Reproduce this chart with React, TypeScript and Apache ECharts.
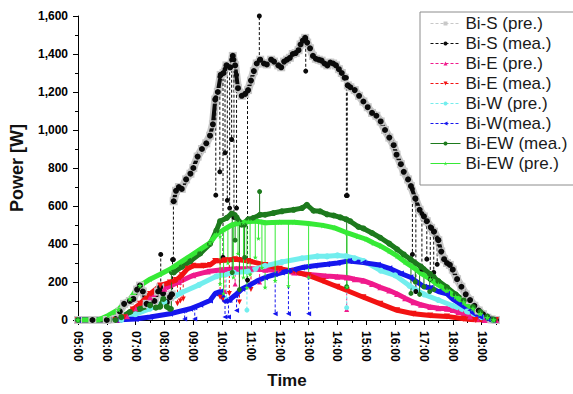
import React, { useEffect, useRef } from 'react';
import * as echarts from 'echarts';

type P = [number, number | null];
type D = [number, number, number];

// ---- Bi-S (measured): [hour, W]; null = break in the marker band
const biSMea: P[] = [
  [5.0, 0], [5.5, 0], [6.0, 0], [6.3, 5], [6.45, 45], [6.6, 85], [6.8, 100], [6.92, 111], [7.05, 160], [7.15, 181],
  [7.25, 150], [7.38, 85], [7.5, 80], [7.65, 100], [7.78, 150], [7.85, 172], [7.95, 140], [8.08, 94], [8.19, 120], [8.25, 135],
  [8.3, null], [8.32, 625], [8.4, 680], [8.5, 700], [8.6, 690], [8.75, 740], [8.9, 770], [9.0, 800], [9.15, 860], [9.3, 900],
  [9.45, 930], [9.58, 970], [9.68, 1030], [9.76, 1160], [9.85, 1200], [9.95, 1290], [10.05, 1300], [10.15, 1340], [10.28, 1330],
  [10.37, 1390], [10.45, 1340], [10.55, 1220], [10.68, 1180], [10.8, 1190], [10.9, 1210], [11.0, 1260], [11.1, 1310], [11.2, 1350],
  [11.32, 1370], [11.45, 1350], [11.55, 1345], [11.7, 1370], [11.8, 1360], [11.95, 1340], [12.05, 1330], [12.15, 1360], [12.25, 1370],
  [12.35, 1380], [12.45, 1400], [12.55, 1405], [12.65, 1420], [12.72, 1450], [12.8, 1470], [12.88, 1485], [12.95, 1460], [13.05, 1430],
  [13.15, 1390], [13.25, 1375], [13.35, 1370], [13.45, 1365], [13.55, 1350], [13.65, 1340], [13.75, 1355], [13.85, 1350], [13.95, 1340],
  [14.05, 1320], [14.15, 1300], [14.25, 1275], [14.3, null], [14.36, 1235], [14.45, 1225], [14.6, 1210], [14.75, 1180], [14.9, 1150],
  [15.05, 1120], [15.2, 1090], [15.35, 1075], [15.5, 1045], [15.65, 1000], [15.8, 960], [15.95, 920], [16.05, 870], [16.2, 820],
  [16.3, 780], [16.45, 740], [16.55, 705], [16.7, 640], [16.85, 580], [17.0, 545], [17.1, 520], [17.25, 485], [17.35, 465],
  [17.5, 420], [17.6, 360], [17.7, 320], [17.8, 300], [17.9, 290], [18.0, 265], [18.15, 215], [18.3, 175], [18.45, 135],
  [18.6, 105], [18.75, 75], [18.9, 50], [19.05, 30], [19.2, 12], [19.35, 3], [19.5, 0],
];
// Bi-S (predicted) sits under the measured band as its grey halo
const biSPre: P[] = biSMea;
// sudden jumps / drop-outs: [hour, from W, to W]
const biSMeaDrops: D[] = [
  [7.87, 150, 345], [8.28, 135, 318], [8.31, 318, 625], [9.78, 1170, 657], [9.92, 1280, 780], [10.03, 1300, 330],
  [10.1, 1320, 880], [10.18, 1340, 630], [10.26, 1330, 589], [10.33, 1370, 950], [10.41, 1370, 540], [10.5, 1290, 589],
  [10.88, 1205, 210], [11.29, 1368, 1600], [12.9, 1480, 1310], [14.31, 1275, 655], [14.34, 655, 1235],
  [16.6, 690, 345], [16.72, 635, 150], [16.93, 560, 267], [17.1, 520, 320], [17.22, 490, 215], [17.34, 465, 250], [17.46, 430, 293],
];

const biEPre: P[] = [
  [5.0, 0], [6.4, 0], [6.7, 20], [7.0, 60], [7.5, 120], [8.0, 165], [8.5, 200], [9.0, 235], [9.5, 255], [10.0, 265],
  [10.5, 270], [11.0, 270], [11.5, 265], [12.0, 262], [12.5, 250], [13.0, 240], [13.6, 232], [14.0, 228], [14.33, 224],
  [14.6, 215], [14.9, 207], [15.2, 190], [15.49, 172], [15.8, 155], [16.07, 137], [16.35, 115], [16.64, 94], [16.9, 80],
  [17.22, 68], [17.5, 62], [17.8, 59], [18.0, 52], [18.2, 42], [18.38, 33], [18.6, 18], [18.84, 7], [19.1, 0], [19.5, 0],
];
const biEPreDrops: D[] = [[10.1, 265, 150], [10.45, 270, 190], [11.3, 268, 200], [14.32, 224, 55]];

const biEMea: P[] = [
  [5.0, 0], [6.3, 0], [6.6, 15], [6.9, 55], [7.15, 85], [7.5, 137], [7.85, 181], [8.19, 198], [8.4, 210], [8.6, 235],
  [8.8, 270], [9.0, 285], [9.35, 285], [9.58, 290], [9.76, 311], [10.1, 315], [10.45, 320], [10.91, 311], [11.5, 290],
  [12.0, 270], [12.5, 255], [13.0, 235], [13.5, 205], [14.0, 175], [14.33, 155], [14.9, 120], [15.49, 85], [16.07, 51],
  [16.64, 33], [17.22, 24], [17.8, 19], [18.38, 7], [18.8, 0], [19.5, 0],
];
const biEMeaDrops: D[] = [
  [8.45, 212, 85], [8.55, 225, 100], [8.65, 240, 110], [9.93, 305, 120], [10.05, 313, 105], [10.25, 316, 140],
  [10.6, 318, 95], [11.0, 308, 160],
];

const biWPre: P[] = [
  [5.0, 0], [6.5, 0], [7.0, 30], [7.5, 60], [8.0, 95], [8.6, 145], [9.2, 185], [9.8, 230], [10.4, 250], [10.9, 255],
  [11.49, 285], [12.07, 305], [12.77, 325], [13.3, 335], [13.64, 335], [14.0, 340], [14.3, 336], [14.6, 325], [14.9, 311],
  [15.5, 260], [16.0, 235], [16.5, 180], [17.0, 135], [17.5, 105], [18.0, 75], [18.5, 45], [19.0, 15], [19.4, 0],
];
const biWPreDrops: D[] = [[10.15, 240, 110], [10.86, 255, 52], [14.32, 336, 65]];

const biWMea: P[] = [
  [5.0, 0], [6.3, 0], [7.0, 5], [7.5, 16], [8.19, 33], [8.89, 59], [9.24, 80], [9.58, 103], [9.76, 140], [9.93, 150],
  [10.1, 100], [10.25, 105], [10.45, 130], [10.7, 165], [10.91, 180], [11.2, 205], [11.49, 224], [12.07, 250], [12.5, 265],
  [12.77, 276], [13.2, 285], [13.64, 293], [14.0, 300], [14.4, 311], [14.9, 302], [15.4, 291], [15.8, 272], [16.2, 245],
  [16.53, 225], [17.0, 175], [17.22, 170], [17.5, 150], [17.8, 137], [18.0, 110], [18.26, 85], [18.61, 51], [18.96, 16],
  [19.2, 5], [19.4, 0],
];
const biWMeaDrops: D[] = [
  [8.7, 50, 5], [9.05, 65, 5], [10.1, 100, 16], [10.22, 103, 16], [10.5, 135, 50], [11.84, 240, 33], [12.3, 257, 33], [13.0, 280, 33],
];

const biEWMea: P[] = [
  [5.0, 0], [6.3, 0], [6.5, 15], [6.8, 42], [7.15, 59], [7.5, 77], [7.7, 65], [7.85, 70], [7.96, 111], [8.08, 70], [8.19, 59],
  [8.26, null], [8.32, 250], [8.6, 280], [8.9, 310], [9.24, 350], [9.58, 400], [9.8, 470], [9.93, 520], [10.16, 537],
  [10.33, 560], [10.5, 540], [10.68, 502], [10.91, 530], [11.09, 537], [11.32, 554], [11.49, 554], [11.78, 563], [12.07, 572],
  [12.48, 580], [12.77, 589], [12.94, 606], [13.17, 575], [13.4, 572], [13.64, 556], [13.87, 550], [14.1, 540], [14.3, 530],
  [14.44, 520], [14.73, 490], [14.9, 482], [15.2, 458], [15.49, 433], [15.8, 402], [16.07, 372], [16.3, 345], [16.53, 320],
  [16.9, 280], [17.22, 241], [17.5, 205], [17.8, 172], [18.1, 135], [18.38, 103], [18.7, 68], [18.96, 42], [19.2, 18], [19.42, 2],
];
const biEWMeaDrops: D[] = [
  [8.24, 59, 250], [10.35, 560, 250], [10.45, 555, 420], [10.6, 520, 160], [10.78, 500, 330], [11.3, 554, 676], [14.32, 530, 175],
  [16.55, 318, 140], [16.7, 300, 200], [16.85, 285, 135], [17.0, 270, 175], [17.2, 243, 150], [17.35, 230, 160],
];

const biEWPre: P[] = [
  [5.0, 0], [5.7, 0], [6.05, 24], [6.4, 55], [6.8, 111], [7.15, 181], [7.5, 215], [7.85, 241], [8.19, 267], [8.54, 302],
  [8.89, 337], [9.24, 372], [9.58, 406], [9.8, 450], [10.05, 475], [10.33, 500], [10.6, 510], [10.91, 518], [11.2, 520],
  [11.5, 512], [12.0, 515], [12.5, 515], [13.0, 508], [13.5, 498], [13.9, 485], [14.35, 458], [14.7, 440], [15.0, 425],
  [15.25, 405], [15.5, 389], [15.8, 362], [16.07, 337], [16.35, 305], [16.64, 276], [16.9, 245], [17.22, 215], [17.5, 185],
  [17.8, 155], [18.1, 122], [18.38, 94], [18.7, 60], [18.96, 33], [19.2, 12], [19.42, 0],
];
const biEWPreDrops: D[] = [
  [9.93, 440, 190], [10.05, 475, 140], [10.2, 490, 300], [10.39, 502, 225], [10.55, 508, 350], [10.74, 512, 225],
  [10.86, 516, 170], [10.97, 518, 240], [11.15, 520, 330], [11.26, 520, 430], [11.38, 518, 276], [11.49, 512, 172],
  [11.84, 515, 207], [12.3, 515, 180], [13.0, 508, 225], [14.33, 456, 175],
];

const xHourMin = 5;
const xHourMax = 19.5;
const yMax = 1600;
const yStep = 200;

const FONT = '"Liberation Sans", Arial, Helvetica, sans-serif';
const STAR = 'path://M5,0 L6.2,3.6 L10,3.6 L7,5.9 L8.1,9.5 L5,7.3 L1.9,9.5 L3,5.9 L0,3.6 L3.8,3.6 Z';

interface Spec {
  name: string; base: P[]; drops: D[]; color: string; symbol: string; rotate: number;
  width: number; size: number; dashed: boolean;
}

const specs: Spec[] = [
  { name: 'Bi-S (pre.)', base: biSPre, drops: [], color: '#c8c8c8', symbol: 'rect', rotate: 0, width: 8, size: 8, dashed: true },
  { name: 'Bi-S (mea.)', base: biSMea, drops: biSMeaDrops, color: '#0a0a0a', symbol: 'circle', rotate: 0, width: 4, size: 6, dashed: true },
  { name: 'Bi-E (pre.)', base: biEPre, drops: biEPreDrops, color: '#f01a8c', symbol: 'triangle', rotate: 0, width: 5, size: 6, dashed: true },
  { name: 'Bi-E (mea.)', base: biEMea, drops: biEMeaDrops, color: '#f21212', symbol: 'triangle', rotate: 180, width: 5, size: 6, dashed: true },
  { name: 'Bi-W (pre.)', base: biWPre, drops: biWPreDrops, color: '#72eeee', symbol: 'circle', rotate: 0, width: 5, size: 6, dashed: true },
  { name: 'Bi-W(mea.)', base: biWMea, drops: biWMeaDrops, color: '#1616ee', symbol: 'triangle', rotate: 90, width: 5, size: 6, dashed: true },
  { name: 'Bi-EW (mea.)', base: biEWMea, drops: biEWMeaDrops, color: '#1d7a1d', symbol: 'circle', rotate: 0, width: 5, size: 6, dashed: false },
  { name: 'Bi-EW (pre.)', base: biEWPre, drops: biEWPreDrops, color: '#36ea36', symbol: STAR, rotate: 0, width: 5, size: 6, dashed: false },
];

const fmtHour = (v: number) => {
  if (Math.abs(v - Math.round(v)) > 1e-6) return '';
  const h = Math.round(v);
  return (h < 10 ? '0' : '') + h + ':00';
};

export default function App() {
  const ref = useRef<HTMLDivElement>(null);
  useEffect(() => {
    if (!ref.current) return;
    const chart = echarts.init(ref.current, undefined, { renderer: 'svg' });
    const series: any[] = [];
    specs.forEach((s) => {
      series.push({
        name: s.name,
        type: 'line',
        data: s.base.map(([t, v]) => [t, v == null ? '-' : v]),
        symbol: s.symbol,
        symbolSize: s.size,
        symbolRotate: s.rotate,
        showSymbol: true,
        showAllSymbol: true,
        connectNulls: false,
        lineStyle: { color: s.color, width: s.width },
        itemStyle: { color: s.color, borderWidth: 0 },
        emphasis: { disabled: true },
        silent: true,
      });
      if (s.drops.length) {
        const d: any[] = [];
        s.drops.forEach(([t, a, b]) => { d.push([t, a], [t, b], [t, '-']); });
        series.push({
          name: s.name,
          type: 'line',
          data: d,
          symbol: s.symbol,
          symbolSize: s.size - 1,
          symbolRotate: s.rotate,
          showSymbol: true,
          showAllSymbol: true,
          connectNulls: false,
          lineStyle: { color: s.color, width: 1, type: s.dashed ? [3, 2] : 'solid' },
          itemStyle: { color: s.color, borderWidth: 0 },
          emphasis: { disabled: true },
          silent: true,
        });
      }
    });
    chart.setOption({
      animation: false,
      backgroundColor: '#ffffff',
      textStyle: { fontFamily: FONT },
      grid: { left: 78, right: 77, top: 16, bottom: 69, containLabel: false },
      legend: {
        orient: 'vertical',
        left: 420,
        top: 12,
        padding: [3, 60, 13, 10],
        borderColor: '#8c8c8c',
        borderWidth: 1,
        itemWidth: 30,
        itemHeight: 5,
        itemGap: 3,
        selectedMode: false,
        textStyle: { fontFamily: FONT, fontSize: 17, color: '#1a1a1a' },
        data: specs.map((s) => ({
          name: s.name,
          itemStyle: { color: s.color },
          lineStyle: { color: s.color, width: 1, type: s.dashed ? [3, 2] : 'solid' },
        })),
      },
      xAxis: {
        type: 'value',
        min: xHourMin,
        max: xHourMax,
        interval: 1,
        name: 'Time',
        nameLocation: 'middle',
        nameGap: 52,
        nameTextStyle: { fontFamily: FONT, fontSize: 17, fontWeight: 'bold', color: '#111' },
        axisLine: { show: true, onZero: false, lineStyle: { color: '#000', width: 1 } },
        axisTick: { show: true, length: 5, lineStyle: { color: '#000' } },
        minorTick: { show: true, splitNumber: 2, length: 3, lineStyle: { color: '#000' } },
        splitLine: { show: false },
        axisLabel: {
          rotate: -90,
          margin: 11,
          fontFamily: FONT,
          fontSize: 12,
          fontWeight: 'bold',
          color: '#000',
          showMaxLabel: false,
          formatter: (v: number) => fmtHour(v),
        },
      },
      yAxis: {
        type: 'value',
        min: 0,
        max: yMax,
        interval: yStep,
        name: 'Power [W]',
        nameLocation: 'middle',
        nameGap: 52,
        nameTextStyle: { fontFamily: FONT, fontSize: 18, fontWeight: 'bold', color: '#111' },
        axisLine: { show: true, lineStyle: { color: '#000', width: 1 } },
        axisTick: { show: true, length: 5, lineStyle: { color: '#000' } },
        minorTick: { show: true, splitNumber: 2, length: 3, lineStyle: { color: '#000' } },
        splitLine: { show: false },
        axisLabel: {
          margin: 10,
          fontFamily: FONT,
          fontSize: 12,
          fontWeight: 'bold',
          color: '#000',
          formatter: (v: number) => v.toLocaleString('en-US'),
        },
      },
      series,
    });
    return () => chart.dispose();
  }, []);
  return (
    <div
      ref={ref}
      style={{ position: 'fixed', left: 0, top: 0, width: 573, height: 394, background: '#fff' }}
    />
  );
}
